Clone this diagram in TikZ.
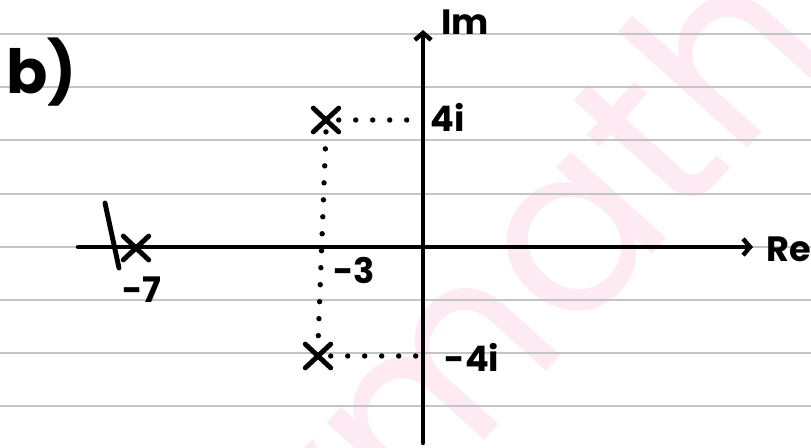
\documentclass[tikz,border=0pt]{standalone}
\usepackage{fontspec}
\setmainfont{Poppins}
\definecolor{ruleGray}{HTML}{C4C4C4}
\definecolor{wmPink}{HTML}{FDEAF2}
\usetikzlibrary{arrows.meta, positioning, shapes.misc}

\begin{document}
\begin{tikzpicture}[x=0.03cm, y=-0.03cm,
  every node/.style={font=\fontsize{30}{30}\selectfont\bfseries, inner sep=0pt},
  ruled/.style={draw=ruleGray, line width=0.9pt},
  axis/.style={line width=3.8pt, line cap=round,
               -{Straight Barb[length=6pt, width=14pt]}},
  pt/.style={minimum width=0.75cm, minimum height=0.7cm},
  pen/.style={line width=4.2pt, line cap=round},
  dots/.style={line width=4.6pt, line cap=round, dash pattern=on 0pt off 14.5pt},
  wm/.style={text=wmPink, font=\fontsize{200}{200}\selectfont}
]
  \useasboundingbox (0,0) rectangle (811,448);
  \fill[white] (0,0) rectangle (811,448);

  % watermark
  \begin{scope}
    \clip (0,0) rectangle (811,448);
    \node[wm, rotate=48] (mark) at (578,252) {ymaths};
  \end{scope}

  % ruled paper
  \foreach \y in {34,87,140,194,247,300,353,406}
    \draw[ruled] (0,\y) -- (811,\y);

  % axes
  \coordinate (O) at (423,247);
  \coordinate (reS) at (78,247);
  \coordinate (reE) at (753,247);
  \coordinate (imS) at (423,443);
  \coordinate (imE) at (423,30);
  \draw[axis] (reS) -- (reE);
  \draw[axis] (imS) -- (imE);

  \node (re) at (789,249) {Re};
  \node (im) at (465,22) {Im};
  \node[font=\fontsize{52}{52}\selectfont\bfseries, anchor=west] (part) at (6,72) {b)};

  % points
  \node[pt] (zA) at (326,120) {};
  \node[pt] (zB) at (318,356) {};
  \node[pt] (zC) at (136,248) {};
  \foreach \z in {zA,zB,zC}
    \draw[pen] (\z.north west) -- (\z.south east)
               (\z.north east) -- (\z.south west);
  \draw[pen] (105,203) -- (119,268);

  \draw[dots] (zA.east) -- (zA -| O);
  \draw[dots] (zB.east) -- (zB -| O);
  \draw[dots] (zA.south) -- (zB.north);

  \node (lA) at (448,117) {4i};
  \node (lB) at (472,357) {-4i};
  \node (lC) at (354,270) {-3};
  \node (lD) at (142,290) {-7};
\end{tikzpicture}
\end{document}
